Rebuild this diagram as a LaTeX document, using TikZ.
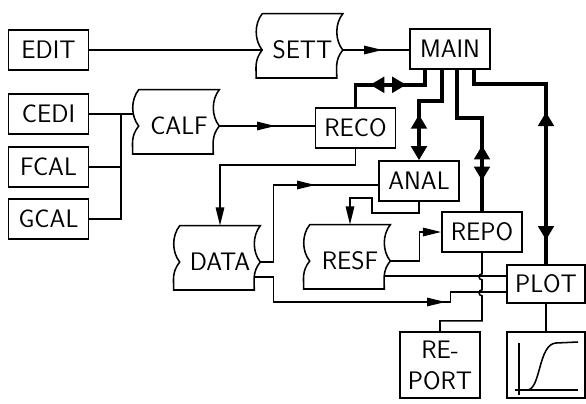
\documentclass[tikz,border=0pt]{standalone}
\usetikzlibrary{arrows.meta,calc,decorations.markings}

\newcommand{\tapeoutline}[1]{%
  \draw[wire] (#1.north west) -- (#1.north east)
    .. controls +(-8,10) and +(-8,-10) .. (#1.east)
    .. controls +(-8,10) and +(0,-10) .. ($(#1.east)+(-6,28)$)
    -- ($(#1.west)+(-6,28)$)
    .. controls +(0,-10) and +(-8,10) .. (#1.west)
    .. controls +(-8,-10) and +(-8,10) .. (#1.north west) -- cycle;}

\begin{document}
\begin{tikzpicture}[x=0.025cm,y=-0.025cm,>={Triangle[length=13pt,width=6pt]},
  every node/.style={inner sep=1pt,font=\fontsize{18}{22}\selectfont\sffamily},
  wire/.style={line width=1.1pt},
  heavy/.style={line width=2.8pt,>={Triangle[length=10pt,width=11pt]}},
  box/.style={draw,wire,minimum width=2cm,minimum height=1cm},
  tape/.style={minimum width=2cm,minimum height=1.8cm},
  fwd/.style={postaction={decorate,decoration={markings,mark=at position #1 with {\arrow{>}}}}},
  bwd/.style={postaction={decorate,decoration={markings,mark=at position #1 with {\arrowreversed{>}}}}}]
  \useasboundingbox (0,0) rectangle (586,403);

  \node[box] (edit) at (48.5,50) {EDIT};
  \node[box] (cedi) at (48.5,114) {CEDI};
  \node[box] (fcal) at (48.5,167) {FCAL};
  \node[box] (gcal) at (48.5,219) {GCAL};
  \coordinate (join) at (121,114);

  \node[tape] (sett) at (302.5,50) {SETT}; \tapeoutline{sett}
  \node[tape] (calf) at (179,126) {CALF}; \tapeoutline{calf}
  \node[tape] (data) at (220,262) {DATA}; \tapeoutline{data}
  \node[tape] (resf) at (350,261) {RESF}; \tapeoutline{resf}

  \node[box] (main) at (450,49) {MAIN};
  \node[box] (reco) at (355.5,128) {RECO};
  \node[box] (anal) at (419,181) {ANAL};
  \node[box] (repo) at (482,232) {REPO};
  \node[box,minimum width=1.95cm,minimum height=0.95cm] (plot) at (546,284) {PLOT};
  \node[box,minimum height=1.65cm,align=center] (report) at (440,365) {RE-\\PORT};
  \node[box,minimum width=1.95cm,minimum height=1.65cm] (chart) at (546,365) {};

  \draw[wire] (edit) -- (sett.west);
  \draw[wire,fwd=0.99cm] (sett.east) -- (sett.east -| main.west);
  \draw[wire] (cedi) -- ($(calf.west)+(-5,-12)$);
  \draw[wire] (fcal) -- (fcal -| join);
  \draw[wire] (gcal) -| (join);
  \draw[wire,fwd=1.4cm] (calf.east) -- (calf.east -| reco.west);

  \draw[heavy,bwd=0.85cm,fwd=1.75cm] ($(main.south west)+(16,0)$) -- ++(0,15) -| (reco.north);
  \draw[heavy,bwd=1.7cm,->] ($(main.south west)+(33,0)$) -- ++(0,31) -| (anal.north);
  \draw[heavy,bwd=2.51cm,fwd=3.39cm] ($(main.south west)+(48,0)$) -- ++(0,48) -| (repo.north);
  \draw[heavy,bwd=2.85cm,fwd=6.05cm] ($(main.south west)+(65,0)$) -- ++(0,14) -| (plot.north);

  \draw[wire,->] (reco.south) -- ++(0,16) -| (data.north);
  \draw[wire,fwd=3.3cm] (data.east) -- ++(13,0) |- ($(anal.west)+(0,4)$);
  \draw[wire,fwd=5.4cm] ($(data.east)+(-6,15)$) -- ++(19,0) -- ++(0,25) -- ++(177,0)
    -- ++(0,-10) -- ($(plot.west)+(0,8)$);
  \draw[wire,->] (anal.south) -- ++(0,11) -- ++(-47,0) -- ++(0,-15) -| (resf.north);
  \draw[wire,->] (resf.east) -- ++(29,0) |- (repo.west);
  \draw[wire] ($(resf.east)+(-6,15)$) -- ($(plot.west)+(0,-8)$);
  \draw[wire] (repo.south) -- ++(0,21) arc[start angle=90,end angle=270,radius=0.075cm]
    -- ++(0,10) arc[start angle=90,end angle=270,radius=0.075cm] -- ++(0,25) -| (report.north);
  \draw[wire] (plot) -- (chart);

  \draw[wire] (519,343) -- (519,395);
  \draw[wire] (515,390) -- (578,390);
  \draw[wire] (527,390) .. controls (541,390) and (538,344) .. (556,343) -- (578,342);
\end{tikzpicture}
\end{document}
